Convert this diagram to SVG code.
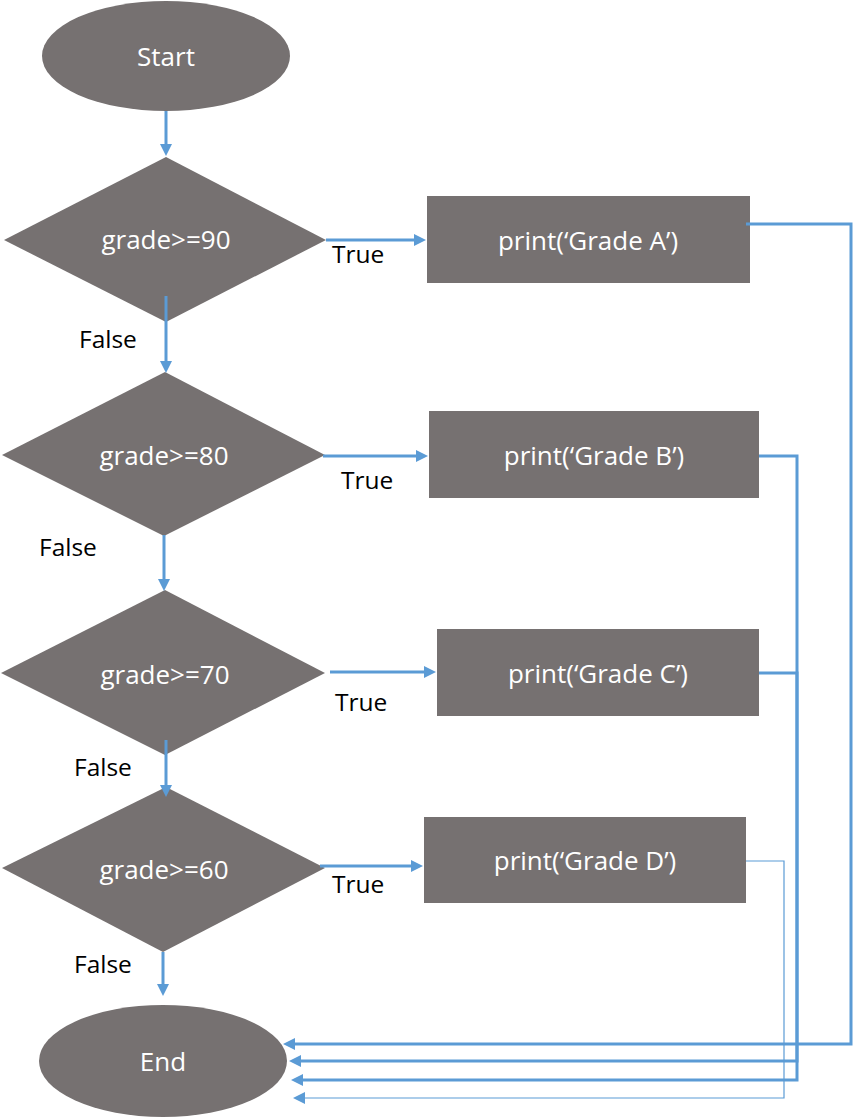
<svg xmlns="http://www.w3.org/2000/svg" width="854" height="1118" viewBox="0 0 854 1118">
<style>
.shape{fill:#767171;}
.nt{fill:#FFFFFF;font-family:"Open Sans","Liberation Sans",sans-serif;font-size:26px;text-anchor:middle;}
.lbl{fill:#000000;font-family:"Open Sans","Liberation Sans",sans-serif;font-size:24.5px;}
.c{fill:none;stroke:#5B9BD5;stroke-width:3;marker-end:url(#ah);}
.thin{fill:none;stroke:#5B9BD5;stroke-width:1.2;marker-end:url(#ah);}
</style>
<defs>
<marker id="ah" markerUnits="userSpaceOnUse" markerWidth="12" markerHeight="12" refX="1" refY="6" orient="auto">
<path d="M0,0 L12,6 L0,12 z" fill="#5B9BD5"/>
</marker>
</defs>
<rect width="854" height="1118" fill="#FFFFFF"/>
<g id="start"><ellipse class="shape" cx="166" cy="56" rx="124" ry="55"/><text class="nt" x="166" y="66">Start</text></g>
<g id="d90"><polygon class="shape" points="166,157 326,240 166,322 4,240"/><text class="nt" x="166" y="249">grade&gt;=90</text></g>
<g id="d80"><polygon class="shape" points="165,372 325,455 164,536 2,455"/><text class="nt" x="164" y="465">grade&gt;=80</text></g>
<g id="d70"><polygon class="shape" points="165,590 325,673 165,755 1,673"/><text class="nt" x="165" y="684">grade&gt;=70</text></g>
<g id="d60"><polygon class="shape" points="166,787 325,868 163,952 2,868"/><text class="nt" x="164" y="879">grade&gt;=60</text></g>
<g id="pa"><rect class="shape" x="427" y="196" width="323" height="87"/><text class="nt" x="588" y="250">print(‘Grade A’)</text></g>
<g id="pb"><rect class="shape" x="429" y="411" width="330" height="87"/><text class="nt" x="594" y="465">print(‘Grade B’)</text></g>
<g id="pc"><rect class="shape" x="437" y="629" width="322" height="87"/><text class="nt" x="598" y="683">print(‘Grade C’)</text></g>
<g id="pd"><rect class="shape" x="424" y="817" width="322" height="86"/><text class="nt" x="585" y="870">print(‘Grade D’)</text></g>
<g id="end"><ellipse class="shape" cx="163" cy="1061" rx="124" ry="56"/><text class="nt" x="163" y="1071">End</text></g>
<g id="connectors">
<path class="c" d="M166,111 V145"/>
<path class="c" d="M326,240 H415"/>
<path class="c" d="M166,296 V362"/>
<path class="c" d="M323,456 H417"/>
<path class="c" d="M164,535 V580"/>
<path class="c" d="M330,672 H425"/>
<path class="c" d="M166,740 V786"/>
<path class="c" d="M320,866 H412"/>
<path class="c" d="M163,952 V985"/>
<path class="c" d="M746,224 H851 V1044 H294"/>
<path class="c" d="M759,456 H797 V1080 H302"/>
<path class="c" d="M759,673 H797 V1061 H300"/>
<path class="thin" d="M746,861 H784 V1098 H304"/>
</g>
<g id="labels">
<text class="lbl" x="332" y="263">True</text>
<text class="lbl" x="79" y="348">False</text>
<text class="lbl" x="341" y="489">True</text>
<text class="lbl" x="39" y="556">False</text>
<text class="lbl" x="335" y="711">True</text>
<text class="lbl" x="74" y="776">False</text>
<text class="lbl" x="332" y="893">True</text>
<text class="lbl" x="74" y="973">False</text>
</g>
</svg>
